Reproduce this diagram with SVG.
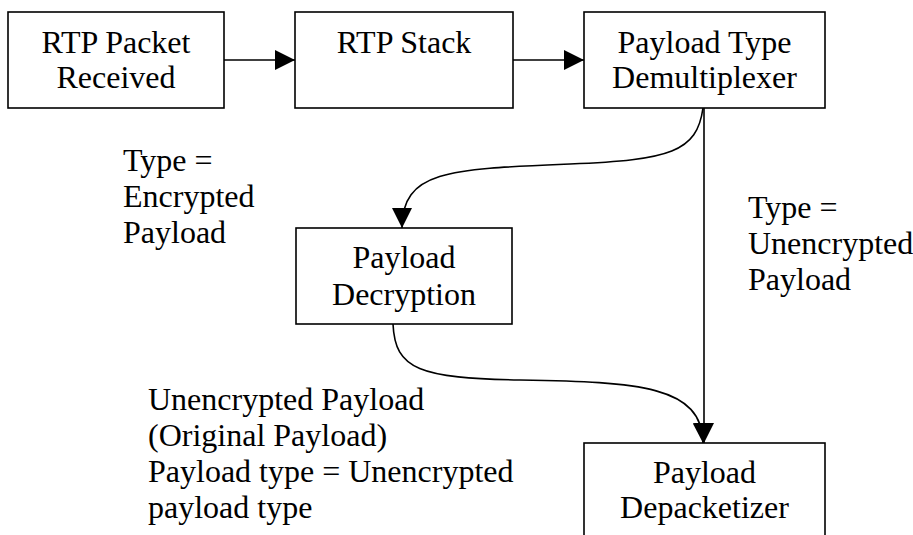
<svg xmlns="http://www.w3.org/2000/svg" width="913" height="535" viewBox="0 0 913 535">
<style>
.box{fill:#fff;stroke:#000;stroke-width:1.6}
.t{font-family:'Liberation Serif','Times New Roman',Times,Tinos,'DejaVu Serif',serif;font-size:32px;fill:#000}
.c{text-anchor:middle}
.ln{fill:none;stroke:#000;stroke-width:1.6}
</style>
<defs>
<marker id="ah" markerUnits="userSpaceOnUse" markerWidth="20" markerHeight="20" refX="20" refY="10" orient="auto" viewBox="0 0 20 20">
<path d="M0,0 L20,10 L0,20 z" fill="#000"/>
</marker>
</defs>
<rect width="913" height="535" fill="#fff"/>
<g id="n1"><rect class="box" x="8" y="12" width="216" height="96"/><text class="t c" x="116" y="53" font-family="Liberation Serif">RTP Packet</text><text class="t c" x="116" y="88" font-family="Liberation Serif">Received</text></g>
<g id="n2"><rect class="box" x="295" y="12" width="218" height="96"/><text class="t c" x="404" y="53">RTP Stack</text></g>
<g id="n3"><rect class="box" x="584" y="12" width="241" height="96"/><text class="t c" x="704.5" y="53">Payload Type</text><text class="t c" x="704.5" y="88">Demultiplexer</text></g>
<g id="n4"><rect class="box" x="296" y="228" width="216" height="96"/><text class="t c" x="404" y="268">Payload</text><text class="t c" x="404" y="305">Decryption</text></g>
<g id="n5"><rect class="box" x="584" y="443" width="241" height="110"/><text class="t c" x="704.5" y="483">Payload</text><text class="t c" x="704.5" y="518">Depacketizer</text></g>
<g id="connectors">
<path class="ln" d="M224,60 L295,60" marker-end="url(#ah)"/>
<path class="ln" d="M513,60 L584,60" marker-end="url(#ah)"/>
<path class="ln" d="M704,108 L704,443" marker-end="url(#ah)"/>
<path class="ln" d="M703,108 C697,152 670,160 570,164 C450,169 402,170 402,228" marker-end="url(#ah)"/>
<path class="ln" d="M393,324 C395,370 420,378 520,380 C640,382 702,386 703,443" marker-end="url(#ah)"/>
</g>
<g id="labels">
<text class="t" x="123" y="171">Type =</text>
<text class="t" x="123" y="207">Encrypted</text>
<text class="t" x="123" y="243">Payload</text>
<text class="t" x="748" y="218">Type =</text>
<text class="t" x="748" y="254">Unencrypted</text>
<text class="t" x="748" y="290">Payload</text>
<text class="t" x="148" y="410">Unencrypted Payload</text>
<text class="t" x="148" y="446">(Original Payload)</text>
<text class="t" x="148" y="482">Payload type = Unencrypted</text>
<text class="t" x="148" y="518">payload type</text>
</g>
</svg>
